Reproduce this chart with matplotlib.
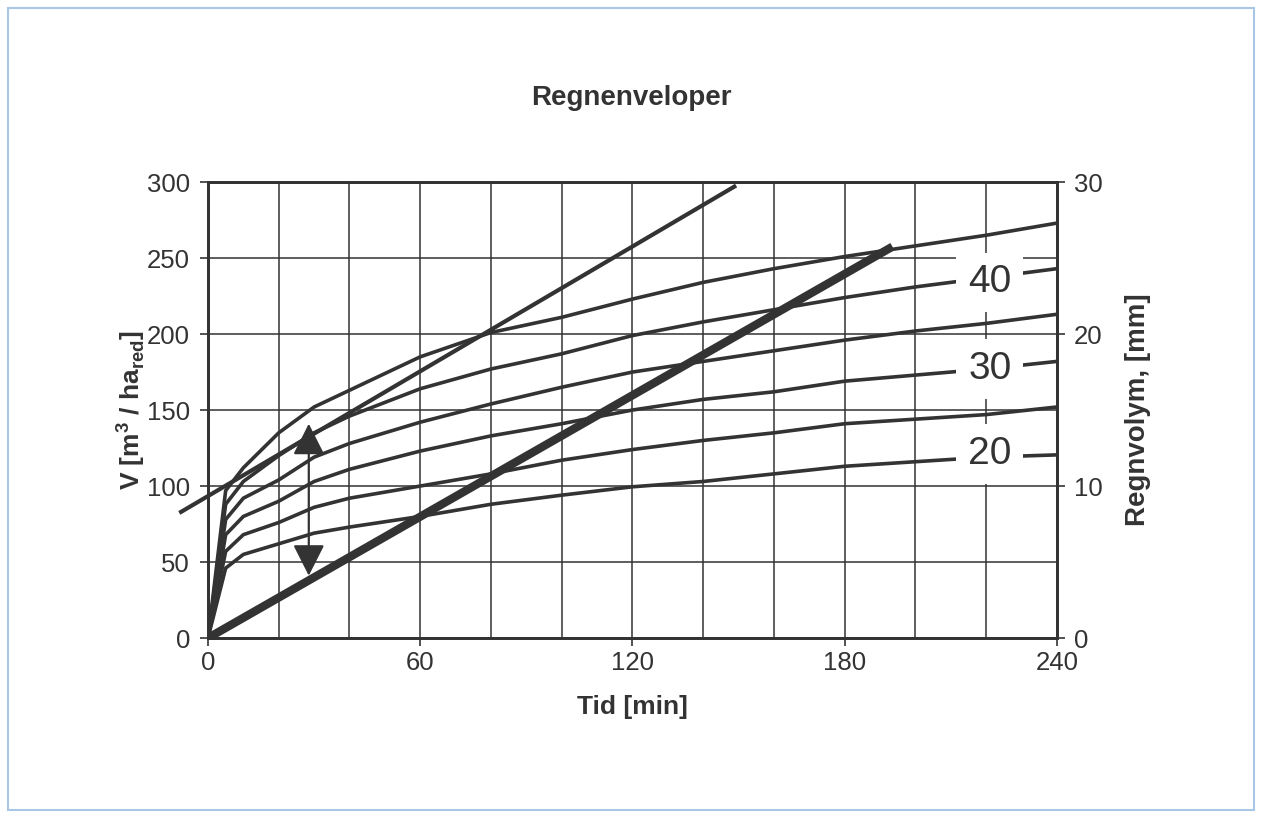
import numpy as np
import matplotlib
matplotlib.use("Agg")
import matplotlib.pyplot as plt
from matplotlib.patches import Rectangle

plt.rcParams['font.family'] = ['Liberation Sans', 'DejaVu Sans']
plt.rcParams['mathtext.fontset'] = 'custom'
plt.rcParams['mathtext.rm'] = 'Liberation Sans'
plt.rcParams['mathtext.bf'] = 'Liberation Sans:bold'

# tid [min] og regnvolum [m3/ha_red] lest av figuren
t = [0, 5, 10, 20, 30, 40, 60, 80, 100, 120, 140, 160, 180, 200, 220, 240]
v_a = [0, 97, 112, 135, 152, 163, 185, 201, 211, 223, 234, 243, 251, 258, 265, 273]
v_b = [0, 88, 103, 120, 135, 146, 164, 177, 187, 199, 208, 216, 224, 231, 237, 243]
v_c = [0, 78, 92, 104, 119, 128, 142, 154, 165, 175, 182, 189, 196, 202, 207, 213]
v_d = [0, 68, 80, 90, 103, 111, 123, 133, 141, 150, 157, 162, 169, 173, 177, 182]
v_e = [0, 57, 68, 76, 86, 92, 100, 108, 117, 124, 130, 135, 141, 144, 147, 152]
v_f = [0, 46, 55, 62, 69, 73, 80, 88, 94, 99.5, 103, 108, 113, 116, 119, 120.5]
kurver = [v_a, v_b, v_c, v_d, v_e, v_f]

# utlopslinje (tykk) og tangentlinje
ut_t = [0, 193.5]
ut_v = [0, 257.5]
tang_t = [-7.6, 148.8]
tang_v = [83, 297]

# merkelapper
lab_txt = ['40', '30', '20']
lab_t = [221, 221, 221]
lab_v = [234, 177, 121]

# dobbeltpil
pil_t = 28.5
pil_v = [141, 41]

farge = '#333333'

fig = plt.figure(figsize=(12.62, 8.16), dpi=100)
ax = fig.add_axes([0.1648, 0.2181, 0.6727, 0.5588])
ax.set_xlim(0, 240)
ax.set_ylim(0, 300)
ax.set_xticks([0, 60, 120, 180, 240])
ax.set_xticks(np.arange(0, 241, 20), minor=True)
ax.set_yticks(np.arange(0, 301, 50))
ax.grid(which='both', axis='x', color=farge, lw=1.1)
ax.grid(which='major', axis='y', color=farge, lw=1.1)
ax.set_axisbelow(True)
ax.tick_params(which='minor', length=0)
ax.tick_params(which='major', direction='out', length=6, width=1.2,
               color=farge, labelcolor=farge, labelsize=18.5)
ax.tick_params(axis='y', pad=7)
for s in ax.spines.values():
    s.set_color(farge)
    s.set_linewidth(2)

for v in kurver:
    ax.plot(t, v, color=farge, lw=2.6, solid_capstyle='round',
            solid_joinstyle='round', zorder=3)

ax.plot(ut_t, ut_v, color=farge, lw=6, solid_capstyle='butt', zorder=4)
ax.plot(tang_t, tang_v, color=farge, lw=3, clip_on=False, zorder=4)

ax.annotate('', xy=(pil_t, pil_v[0]), xytext=(pil_t, pil_v[1]),
            arrowprops=dict(arrowstyle='<|-|>,head_length=0.97,head_width=0.49',
                            mutation_scale=20, color=farge, lw=1.6,
                            shrinkA=0, shrinkB=0), zorder=5)

for txt, x, y in zip(lab_txt, lab_t, lab_v):
    ax.text(x, y, txt, fontsize=28, color=farge, ha='center', va='center',
            bbox=dict(boxstyle='square,pad=0.3', fc='white', ec='none'), zorder=6)

ax.set_xlabel('Tid [min]', fontsize=19, fontweight='bold', color=farge, labelpad=14)
ax.set_ylabel(r'V [m$^{\mathbf{3}}$ / ha$_{\mathbf{red}}$]', fontsize=19,
              fontweight='bold', color=farge, labelpad=0)

ax2 = ax.twinx()
ax2.set_ylim(0, 30)
ax2.set_yticks([0, 10, 20, 30])
ax2.tick_params(direction='out', length=6, width=1.2, color=farge,
                labelcolor=farge, labelsize=18.5, pad=6)
for s in ax2.spines.values():
    s.set_color(farge)
    s.set_linewidth(2)
ax2.set_ylabel('Regnvolym, [mm]', fontsize=20, fontweight='bold', color=farge,
               labelpad=16)

fig.text(0.5, 1 - 98 / 816, 'Regnenveloper', ha='center', va='center',
         fontsize=20, fontweight='bold', color=farge)

fig.add_artist(Rectangle((8 / 1262, 6 / 816), 1246 / 1262, 802 / 816,
                         transform=fig.transFigure, fill=False,
                         ec='#a8c6e6', lw=1.5))

fig.savefig('out.png', dpi=100)
